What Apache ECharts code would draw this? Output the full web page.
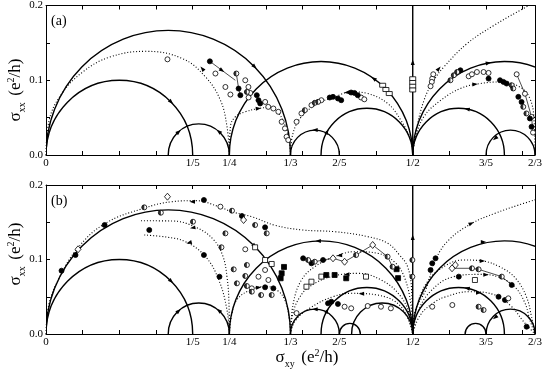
<!DOCTYPE html>
<html>
<head>
<meta charset="utf-8">
<script src="https://cdn.jsdelivr.net/npm/echarts@6/dist/echarts.min.js"></script>
<style>
  html, body { margin: 0; padding: 0; background: #fff; }
  #main { width: 545px; height: 381px; }
</style>
</head>
<body>
<div id="main"></div>
<script>
// axis ticks and fraction labels
var fracVals = [0, 1/5, 1/4, 1/3, 2/5, 1/2, 3/5, 2/3];
var fracText = ['0', '1/5', '1/4', '1/3', '2/5', '1/2', '3/5', '2/3'];
var xTicks = [0, 0.05, 0.1, 0.15, 0.2, 0.25, 0.3, 0.35, 0.4, 0.45, 0.5, 0.55, 0.6, 0.65];
var yTicks = [0, 0.05, 0.1, 0.15, 0.2];
var yLabelVals = [0, 0.1, 0.2];

// semicircles, given by their two ends on the sigma_xy axis
var arcsA = [[0, 1/3], [0, 1/5], [1/6, 1/4], [1/4, 1/2], [1/3, 2/5], [3/8, 1/2], [1/2, 3/4], [1/2, 5/8], [3/5, 2/3]];
var arcsB = [[0, 1/3], [0, 1/5], [1/6, 1/4], [1/4, 1/2], [1/3, 2/5], [3/8, 1/2], [1/2, 3/4], [1/2, 5/8], [3/5, 2/3],
             [2/5, 3/7], [5/12, 1/2], [4/7, 3/5]];
var vline = [[0.5, 0], [0.5, 0.2]];

// dotted flow lines, panel (a)
var aDot1 = [[0, 0], [0.004, 0.045], [0.02, 0.08], [0.05, 0.111], [0.087, 0.131], [0.136, 0.1387], [0.186, 0.129], [0.2175, 0.1044], [0.2378, 0.0733], [0.2468, 0.0378], [0.25, 0]];
var aDot2 = [[0.25, 0], [0.2514, 0.0378], [0.258, 0.051], [0.2717, 0.0578], [0.2897, 0.0622], [0.303, 0.0635], [0.316, 0.057], [0.325, 0.042], [0.331, 0.022], [0.3333, 0]];
var aDot3 = [[0.3333, 0], [0.3365, 0.028], [0.348, 0.051], [0.371, 0.069], [0.3935, 0.0777], [0.416, 0.0844], [0.4386, 0.0822], [0.4657, 0.069], [0.4837, 0.0467], [0.4973, 0.02], [0.5, 0]];
var aDot4 = [[0.5, 0], [0.504, 0.029], [0.5154, 0.0733], [0.5289, 0.1], [0.5424, 0.1177], [0.574, 0.149], [0.61, 0.173], [0.6417, 0.191], [0.6667, 0.2045]];
var aDot5 = [[0.5, 0], [0.503, 0.02], [0.515, 0.051], [0.538, 0.073], [0.565, 0.089], [0.592, 0.0956], [0.619, 0.0977], [0.646, 0.091], [0.66, 0.075], [0.6655, 0.045], [0.6667, 0]];

// dotted flow lines, panel (b)
var bDot1 = [[0, 0], [0.004, 0.04], [0.018, 0.075], [0.043, 0.115], [0.08, 0.148], [0.134, 0.169], [0.172, 0.1776], [0.204, 0.179], [0.2356, 0.171], [0.2536, 0.164], [0.2806, 0.1575], [0.312, 0.146], [0.35, 0.1396], [0.394, 0.1373], [0.439, 0.1306], [0.466, 0.1217], [0.482, 0.106], [0.493, 0.0903], [0.4985, 0.059], [0.5, 0]];
var bDot2 = [[0.1295, 0.152], [0.172, 0.1517], [0.205, 0.143], [0.228, 0.127], [0.241, 0.105], [0.247, 0.075], [0.2495, 0.04], [0.25, 0]];
var bDot3 = [[0.134, 0.1329], [0.165, 0.13], [0.19, 0.124], [0.2175, 0.1038], [0.2356, 0.0725], [0.2468, 0.0322], [0.25, 0]];
var bDot4 = [[0.25, 0], [0.253, 0.025], [0.26, 0.0456], [0.2783, 0.059], [0.3, 0.064], [0.316, 0.058], [0.326, 0.045], [0.331, 0.025], [0.3333, 0]];
var bDot5 = [[0.3333, 0], [0.3371, 0.041], [0.3483, 0.0725], [0.3664, 0.0903], [0.3935, 0.1038], [0.4206, 0.1105], [0.4521, 0.1083], [0.4747, 0.097], [0.4883, 0.077], [0.4973, 0.041], [0.5, 0]];
var bDot6 = [[0.3333, 0], [0.336, 0.025], [0.345, 0.048], [0.36, 0.064], [0.389, 0.077], [0.425, 0.0814], [0.457, 0.0725], [0.484, 0.05], [0.4975, 0.02], [0.5, 0]];
var bDot7 = [[0.3333, 0], [0.34, 0.018], [0.36, 0.035], [0.391, 0.05], [0.416, 0.0546], [0.452, 0.0523], [0.484, 0.0366], [0.5, 0]];
var bDot8 = [[0.5, 0], [0.503, 0.03], [0.5176, 0.059], [0.531, 0.0993], [0.549, 0.126], [0.5808, 0.1486], [0.6123, 0.162], [0.644, 0.173], [0.6667, 0.18]];
var bDot9 = [[0.5, 0], [0.505, 0.035], [0.52, 0.07], [0.545, 0.092], [0.57, 0.0993], [0.595, 0.098], [0.619, 0.09], [0.64, 0.075], [0.655, 0.05], [0.662, 0.023], [0.6667, 0]];
var bDot10 = [[0.5, 0], [0.507, 0.03], [0.525, 0.058], [0.554, 0.0765], [0.59, 0.08], [0.617, 0.0765], [0.6393, 0.063], [0.653, 0.0416], [0.66, 0.018], [0.6667, 0]];
var bDot11 = [[0.5, 0], [0.51, 0.025], [0.53, 0.043], [0.545, 0.05], [0.577, 0.0568], [0.6123, 0.0523], [0.635, 0.0366], [0.65, 0.018], [0.6667, 0]];

// flow arrows: [sigma_xy, sigma_xx, rotation in degrees]
var aArrows = [[0.2845, 0.1179, -135], [0.1707, 0.0707, -135], [0.181, 0.031, -49], [0.2356, 0.0315, 49], [0.4467, 0.1024, 55],
  [0.3667, 0.0333, 90], [0.3834, 0.0313, -30], [0.6033, 0.1231, -80], [0.574, 0.0614, 79], [0.6123, 0.0222, 129],
  [0.5, 0.124, 0], [0.213, 0.1156, 40], [0.2897, 0.0622, -85], [0.41, 0.0835, 95], [0.5356, 0.1156, -40], [0.585, 0.0945, -85],
  [0.24, 0.113, -125]];
var bArrows = [[0.2845, 0.1179, -135], [0.1707, 0.0707, -135], [0.181, 0.031, -49], [0.2356, 0.0315, 49], [0.371, 0.1249, 90],
  [0.3667, 0.0333, 90], [0.3834, 0.0313, -30], [0.5966, 0.1236, -90], [0.574, 0.0614, 79], [0.6123, 0.0222, 129],
  [0.5, 0.13, 0], [0.1994, 0.1776, 90], [0.2, 0.1425, 100], [0.195, 0.1225, 105], [0.29, 0.0625, -85], [0.4, 0.1055, 95],
  [0.41, 0.08, 92], [0.43, 0.054, 92], [0.58, 0.1486, -65], [0.595, 0.098, -90], [0.6, 0.0795, -90], [0.59, 0.0555, -90]];

// measured points, panel (a)
var aOpen = [[0.1656, 0.128], [0.231, 0.109], [0.2446, 0.091], [0.2514, 0.0809], [0.2717, 0.1], [0.276, 0.091], [0.2785, 0.083], [0.2762, 0.077],
  [0.2988, 0.071], [0.303, 0.0644], [0.31, 0.0622], [0.3168, 0.0578], [0.3213, 0.0444], [0.3258, 0.0356], [0.328, 0.0244], [0.3303, 0.02],
  [0.3416, 0.0444], [0.3483, 0.0556], [0.3619, 0.0667], [0.3754, 0.0733], [0.4296, 0.0769], [0.434, 0.0745],
  [0.5266, 0.1022], [0.526, 0.0978], [0.5243, 0.092], [0.528, 0.108], [0.5763, 0.1053], [0.5807, 0.108], [0.5875, 0.111], [0.5966, 0.111],
  [0.6034, 0.1098], [0.6417, 0.108], [0.653, 0.082], [0.662, 0.051], [0.664, 0.03], [0.667, 0.015]];
var aFilled = [[0.2234, 0.1253], [0.2626, 0.0889], [0.265, 0.08], [0.2874, 0.08], [0.2897, 0.0733], [0.292, 0.069], [0.3868, 0.0769], [0.3913, 0.0778],
  [0.398, 0.0756], [0.4025, 0.0733], [0.416, 0.0836], [0.4206, 0.083], [0.425, 0.08], [0.565, 0.1133], [0.6034, 0.1022], [0.619, 0.1],
  [0.6237, 0.0978], [0.628, 0.0956], [0.644, 0.0778], [0.6484, 0.071], [0.6597, 0.0489], [0.662, 0.0378]];
var aHalf = [[0.2595, 0.109], [0.2739, 0.0844], [0.3529, 0.06], [0.3665, 0.0698], [0.371, 0.0711], [0.5514, 0.1], [0.556, 0.1067], [0.5605, 0.111],
  [0.635, 0.0933], [0.637, 0.089], [0.6507, 0.0644], [0.655, 0.0556]];
var aSquare = [[0.459, 0.0933], [0.4634, 0.0876], [0.468, 0.0822], [0.5, 0.102], [0.5, 0.097], [0.5, 0.092], [0.5, 0.087]];
var aChain1 = [[0.2234, 0.1253], [0.2581, 0.1]];
var aChain2 = [[0.2595, 0.109], [0.2626, 0.0889], [0.265, 0.08]];
var aChain3 = [[0.6417, 0.108], [0.653, 0.082], [0.662, 0.051], [0.664, 0.03]];

// measured points, panel (b)
var bFilled = [[0.0212, 0.085], [0.0402, 0.106], [0.0799, 0.1463], [0.1408, 0.1396], [0.2153, 0.1799], [0.2671, 0.1584], [0.2987, 0.1432],
  [0.2153, 0.106], [0.2365, 0.0769], [0.2987, 0.0627], [0.31, 0.0613], [0.3619, 0.0949], [0.3777, 0.0993], [0.3845, 0.0412], [0.389, 0.0434],
  [0.398, 0.0403], [0.5311, 0.1016], [0.5266, 0.0949], [0.5243, 0.0859], [0.5628, 0.077], [0.635, 0.0658], [0.617, 0.05], [0.6258, 0.0456],
  [0.6553, 0.0098], [0.3506, 0.1016]];
var bDiamond = [[0.0437, 0.1137], [0.1656, 0.1843], [0.2694, 0.153], [0.3913, 0.1016], [0.4071, 0.097], [0.5536, 0.0882], [0.5581, 0.0926], [0.4454, 0.1195]];
var bOpen = [[0.2378, 0.1709], [0.2717, 0.1137], [0.2987, 0.0859], [0.2897, 0.0769], [0.2806, 0.0613], [0.3032, 0.0725], [0.4071, 0.0366], [0.4161, 0.0345],
  [0.4386, 0.0376], [0.4567, 0.0366], [0.4702, 0.0345], [0.5266, 0.0366], [0.554, 0.0389], [0.6303, 0.0479], [0.3416, 0.028]];
var bHalf = [[0.134, 0.17], [0.1566, 0.1628], [0.2004, 0.1507], [0.2536, 0.1655], [0.2851, 0.1463], [0.3009, 0.1351], [0.2446, 0.1351], [0.2392, 0.1164],
  [0.2559, 0.0868], [0.2603, 0.068], [0.2739, 0.0926], [0.2717, 0.0779], [0.2739, 0.0644], [0.2806, 0.0568], [0.2933, 0.0523], [0.3077, 0.0523],
  [0.3574, 0.0993], [0.3664, 0.097], [0.4228, 0.106], [0.4657, 0.1038], [0.4725, 0.0903], [0.5808, 0.0882], [0.5898, 0.0868], [0.6214, 0.077],
  [0.5898, 0.0366], [0.5966, 0.0322], [0.4995, 0.0993], [0.4995, 0.0769]];
var bSquare = [[0.2851, 0.1164], [0.2987, 0.0993], [0.3077, 0.094], [0.3619, 0.0702], [0.3551, 0.0635], [0.5848, 0.0725], [0.3754, 0.077], [0.4363, 0.077]];
var bSquareFilled = [[0.3213, 0.0815], [0.3199, 0.0748], [0.3822, 0.0792], [0.3935, 0.0792], [0.4093, 0.0748], [0.3245, 0.09], [0.478, 0.087], [0.48, 0.075]];
var bChain1 = [[0.3506, 0.1016], [0.3574, 0.0993], [0.3664, 0.097], [0.3777, 0.0993], [0.3913, 0.1016], [0.4071, 0.097], [0.4228, 0.106]];
var bChain2 = [[0.4228, 0.106], [0.4454, 0.1195], [0.4657, 0.1038], [0.4725, 0.0903]];
var bChain3 = [[0.5536, 0.0882], [0.5808, 0.0882], [0.5898, 0.0868], [0.6214, 0.077], [0.635, 0.0658]];

var serif = 'Liberation Serif';
var chart = echarts.init(document.getElementById('main'));

function fracFmt(v) {
  for (var i = 0; i < fracVals.length; i++) {
    if (Math.abs(v - fracVals[i]) < 1e-6) return fracText[i];
  }
  return '';
}

function xAx(gi, pos, showLabel) {
  return {
    type: 'value', gridIndex: gi, position: pos, min: 0, max: 2/3,
    axisLine: {show: true, onZero: false, lineStyle: {color: '#000', width: 1}},
    axisTick: {show: true, inside: true, length: 4, customValues: xTicks, lineStyle: {color: '#000'}},
    axisLabel: {show: showLabel, customValues: fracVals, formatter: fracFmt, margin: 3,
      color: '#000', fontFamily: serif, fontSize: 11},
    splitLine: {show: false}
  };
}
function yAx(gi, pos, showLabel) {
  return {
    type: 'value', gridIndex: gi, position: pos, min: 0, max: 0.2,
    axisLine: {show: true, onZero: false, lineStyle: {color: '#000', width: 1}},
    axisTick: {show: true, inside: true, length: 4, customValues: yTicks, lineStyle: {color: '#000'}},
    axisLabel: {show: showLabel, customValues: yLabelVals, formatter: function (v) { return v.toFixed(1); },
      margin: 3, color: '#000', fontFamily: serif, fontSize: 11},
    splitLine: {show: false}
  };
}

function renderArc(params, api) {
  var a = api.value(0), b = api.value(1);
  var p1 = api.coord([a, 0]);
  var p2 = api.coord([b, 0]);
  var top = api.coord([(a + b) / 2, (b - a) / 2]);
  var rx = (p2[0] - p1[0]) / 2, ry = p1[1] - top[1];
  var cs = params.coordSys;
  return {
    type: 'path',
    shape: {pathData: 'M' + p1[0] + ' ' + p1[1] + ' A' + rx + ' ' + ry + ' 0 0 1 ' + p2[0] + ' ' + p2[1]},
    style: {fill: null, stroke: '#000', lineWidth: 1.4},
    clipPath: {type: 'rect', shape: {x: cs.x, y: cs.y, width: cs.width, height: cs.height}}
  };
}

function arcs(list, i) {
  return {
    type: 'custom', xAxisIndex: i, yAxisIndex: i, renderItem: renderArc, z: 3, silent: true,
    encode: {x: [0, 1], y: 2},
    data: list.map(function (r) { return [r[0], r[1], 0]; })
  };
}
function dotted(d, i) {
  return {type: 'line', xAxisIndex: i, yAxisIndex: i, data: d, smooth: 0.4, symbol: 'none', silent: true,
    lineStyle: {color: '#000', width: 1.1, type: [1, 2]}, z: 2};
}
function solid(d, i, w) {
  return {type: 'line', xAxisIndex: i, yAxisIndex: i, data: d, symbol: 'none', silent: true,
    lineStyle: {color: '#000', width: w}, z: 3};
}
function marks(d, i, symbol, size, fill, extra) {
  var s = {type: 'scatter', xAxisIndex: i, yAxisIndex: i, data: d, symbol: symbol, symbolSize: size, silent: true,
    itemStyle: {color: fill, borderColor: '#000', borderWidth: 0.8, opacity: 1}, z: 5};
  if (extra) for (var k in extra) s[k] = extra[k];
  return s;
}
function arrows(d, i) {
  return {type: 'scatter', xAxisIndex: i, yAxisIndex: i, data: d, symbol: 'triangle', symbolSize: [4, 5.5], silent: true,
    encode: {x: 0, y: 1},
    symbolRotate: function (v) { return v[2]; },
    itemStyle: {color: '#000', opacity: 1}, z: 4};
}
var halfPath = 'path://M10,0 A10,10 0 0 0 10,20 Z';
function half(d, i) {
  return [marks(d, i, 'circle', 5, '#fff'),
          marks(d, i, halfPath, [2.5, 5], '#000', {symbolOffset: [-1.25, 0], z: 6, itemStyle: {color: '#000', borderWidth: 0}})];
}

var series = [
  arcs(arcsA, 0), solid(vline, 0, 1.4),
  dotted(aDot1, 0), dotted(aDot2, 0), dotted(aDot3, 0), dotted(aDot4, 0), dotted(aDot5, 0),
  solid(aChain1, 0, 0.7), solid(aChain2, 0, 0.7), solid(aChain3, 0, 0.7), arrows(aArrows, 0),
  marks(aOpen, 0, 'circle', 5, '#fff'), marks(aFilled, 0, 'circle', 5, '#000'),
  marks(aSquare, 0, 'rect', [6, 4], '#fff')
].concat(half(aHalf, 0)).concat([
  arcs(arcsB, 2), solid(vline, 2, 1.4),
  dotted(bDot1, 2), dotted(bDot2, 2), dotted(bDot3, 2), dotted(bDot4, 2), dotted(bDot5, 2), dotted(bDot6, 2),
  dotted(bDot7, 2), dotted(bDot8, 2), dotted(bDot9, 2), dotted(bDot10, 2), dotted(bDot11, 2),
  solid(bChain1, 2, 0.7), solid(bChain2, 2, 0.7), solid(bChain3, 2, 0.7), arrows(bArrows, 2),
  marks(bFilled, 2, 'circle', 5, '#000'), marks(bOpen, 2, 'circle', 5, '#fff'),
  marks(bDiamond, 2, 'diamond', [6, 7], '#fff'), marks(bSquare, 2, 'rect', 5, '#fff'),
  marks(bSquareFilled, 2, 'rect', 5, '#000')
]).concat(half(bHalf, 2));

function titleRich(big) {
  return {
    s: {fontFamily: serif, fontSize: big, lineHeight: 24, verticalAlign: 'middle'},
    sub: {fontFamily: serif, fontSize: 10, lineHeight: 24, verticalAlign: 'bottom', padding: [0, 0, 1, 0]},
    n: {fontFamily: serif, fontSize: big, lineHeight: 24},
    sup: {fontFamily: serif, fontSize: 10, lineHeight: 24, verticalAlign: 'top', padding: [2, 0, 0, 0]}
  };
}
var yTitle = '{s|σ}{sub|xx}  {n|(e}{sup|2}{n|/h)}';
var xTitle = '{s|σ}{sub|xy}  {n|(e}{sup|2}{n|/h)}';

chart.setOption({
  animation: false,
  backgroundColor: '#fff',
  grid: [
    {left: 46, top: 5, width: 493, height: 150},
    {left: 46, top: 185, width: 493, height: 149}
  ],
  xAxis: [xAx(0, 'bottom', true), xAx(0, 'top', false), xAx(1, 'bottom', true), xAx(1, 'top', false)],
  yAxis: [yAx(0, 'left', true), yAx(0, 'right', false), yAx(1, 'left', true), yAx(1, 'right', false)],
  series: series,
  graphic: [
    {type: 'text', left: 51, top: 14, style: {text: '(a)', fontFamily: serif, fontSize: 14, fill: '#000'}},
    {type: 'text', left: 51, top: 194, style: {text: '(b)', fontFamily: serif, fontSize: 14, fill: '#000'}},
    {type: 'text', x: 16, y: 90, rotation: Math.PI / 2,
      style: {text: yTitle, rich: titleRich(17), align: 'center', verticalAlign: 'middle', fill: '#000'}},
    {type: 'text', x: 16, y: 254, rotation: Math.PI / 2,
      style: {text: yTitle, rich: titleRich(17), align: 'center', verticalAlign: 'middle', fill: '#000'}},
    {type: 'text', x: 307, y: 358,
      style: {text: xTitle, rich: titleRich(17), align: 'center', verticalAlign: 'middle', fill: '#000'}}
  ]
});
</script>
</body>
</html>
